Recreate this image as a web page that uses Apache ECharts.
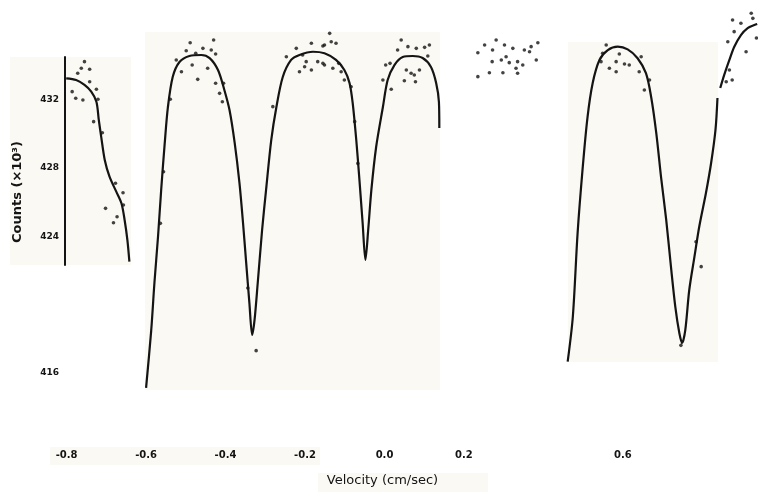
<!DOCTYPE html>
<html>
<head>
<meta charset="utf-8">
<script src="https://cdn.jsdelivr.net/npm/echarts@6/dist/echarts.min.js"></script>
<style>
  html, body { margin: 0; padding: 0; background: #fff; }
  #chart { width: 758px; height: 492px; }
</style>
</head>
<body>
<div id="chart"></div>
<script>
  // velocity (cm/sec), counts (x10^3)
  var xTicks = [-0.8, -0.6, -0.4, -0.2, 0, 0.2, 0.6];
  var yTicks = [416, 424, 428, 432];

  // fitted curve, one array per piece of the scan
  var leftFit = [[-0.801,433.27],[-0.776,433.17],[-0.755,432.88],[-0.738,432.49],[-0.725,431.90],[-0.719,430.83],
    [-0.713,429.85],[-0.704,428.48],[-0.692,427.50],[-0.675,426.62],[-0.662,425.94],[-0.654,424.96],[-0.647,423.78],[-0.642,422.51]];
  var mainFit = [[-0.600,415.10],[-0.587,418.50],[-0.579,421.26],[-0.570,423.96],[-0.562,426.72],[-0.553,429.48],[-0.545,431.59],
    [-0.533,433.35],[-0.516,434.23],[-0.491,434.58],[-0.461,434.64],[-0.440,434.46],[-0.419,433.76],[-0.403,432.59],[-0.390,431.41],
    [-0.377,429.48],[-0.365,427.13],[-0.356,424.78],[-0.348,422.43],[-0.340,420.09],[-0.333,418.21],[-0.327,419.09],[-0.319,421.26],
    [-0.308,424.37],[-0.298,426.72],[-0.285,429.65],[-0.272,431.59],[-0.256,433.35],[-0.235,434.35],[-0.214,434.64],[-0.180,434.83],
    [-0.151,434.74],[-0.122,434.35],[-0.101,433.76],[-0.088,433.00],[-0.080,431.82],[-0.071,429.65],[-0.063,427.30],[-0.055,424.78],
    [-0.048,422.61],[-0.041,424.37],[-0.033,426.72],[-0.021,429.24],[-0.004,431.59],[0.008,433.17],[0.025,434.05],[0.046,434.52],
    [0.071,434.58],[0.096,434.46],[0.117,433.94],[0.130,433.00],[0.137,431.88],[0.138,430.36]];
  var rightFit = [[0.461,416.64],[0.474,419.28],[0.486,424.19],[0.499,428.07],[0.511,431.00],[0.524,433.00],[0.541,434.35],
    [0.562,434.93],[0.587,435.13],[0.612,434.97],[0.637,434.45],[0.658,433.57],[0.671,432.19],[0.684,430.06],[0.696,427.48],
    [0.709,424.96],[0.721,422.20],[0.732,419.85],[0.742,418.33],[0.749,417.74],[0.757,418.50],[0.767,420.85],[0.780,422.79],
    [0.792,424.55],[0.809,426.54],[0.822,428.30],[0.833,430.24],[0.838,432.12]];
  var edgeFit = [[0.845,432.70],[0.855,433.47],[0.868,434.35],[0.880,435.11],[0.897,435.81],[0.914,436.22],[0.931,436.40],[0.938,436.46]];

  // measured points
  var leftDots = [[-0.755,434.25],[-0.763,433.86],[-0.742,433.80],[-0.772,433.57],[-0.742,433.07],[-0.725,432.63],[-0.786,432.49],
    [-0.777,432.10],[-0.759,432.00],[-0.721,432.04],[-0.732,430.73],[-0.710,430.08],[-0.677,427.11],[-0.658,426.56],[-0.657,425.84],
    [-0.702,425.64],[-0.673,425.15],[-0.682,424.80]];
  var mainDots = [[-0.489,435.36],[-0.430,435.52],[-0.457,435.03],[-0.436,434.93],[-0.425,434.70],[-0.499,434.89],[-0.475,434.74],
    [-0.524,434.35],[-0.511,433.66],[-0.484,434.05],[-0.470,433.21],[-0.445,433.86],[-0.425,432.98],[-0.415,432.39],[-0.408,431.90],
    [-0.405,432.98],[-0.281,431.61],[-0.323,417.29],[-0.344,420.97],[-0.564,424.76],[-0.539,432.04],[-0.556,427.79],
    [-0.138,435.91],[-0.184,435.33],[-0.155,435.17],[-0.134,435.42],[-0.122,435.33],[-0.206,434.64],[-0.197,434.25],[-0.201,433.95],
    [-0.214,433.66],[-0.168,434.25],[-0.155,434.15],[-0.151,434.05],[-0.184,433.76],[-0.130,433.86],[-0.115,434.15],[-0.109,433.66],
    [-0.101,433.17],[-0.084,432.78],[-0.075,430.73],[-0.067,428.28],[-0.247,434.54],[-0.222,435.03],[-0.151,435.23],
    [0.042,435.52],[0.059,435.13],[0.080,435.03],[0.101,435.09],[0.113,435.23],[0.033,434.93],[0.003,434.05],[0.014,434.15],
    [-0.004,433.17],[0.017,432.63],[0.055,433.76],[0.067,433.57],[0.075,433.47],[0.088,433.76],[0.050,433.13],[0.078,433.07],[0.109,434.58]];
  var cloudDots = [[0.252,435.23],[0.281,435.52],[0.302,435.23],[0.323,435.03],[0.352,434.93],[0.369,435.13],[0.386,435.36],
    [0.235,434.77],[0.272,434.93],[0.365,434.83],[0.271,434.25],[0.294,434.35],[0.314,434.19],[0.335,434.25],[0.348,434.05],
    [0.382,434.35],[0.235,433.37],[0.264,433.60],[0.298,433.60],[0.335,433.57],[0.331,433.86],[0.306,434.54]];
  var rightDots = [[0.558,435.23],[0.549,434.74],[0.591,434.70],[0.583,434.25],[0.604,434.11],[0.616,434.05],[0.545,434.25],
    [0.566,433.86],[0.583,433.66],[0.641,433.66],[0.654,432.59],[0.667,433.17],[0.646,434.54],[0.797,422.22],[0.784,423.68],[0.746,417.6]];
  var edgeDots = [[0.876,436.69],[0.897,436.50],[0.923,437.09],[0.927,436.79],[0.880,436.01],[0.864,435.42],[0.910,434.83],
    [0.936,435.64],[0.868,433.76],[0.875,433.17],[0.860,433.07]];

  var ink = '#141414';
  var paper = '#fbf9f4';
  var tickFont = {color: ink, fontSize: 10, fontWeight: 'bold', fontFamily: 'DejaVu Sans'};

  function fitLine(d) {
    return {type: 'line', data: d, smooth: 0.3, symbol: 'none', silent: true,
      lineStyle: {color: ink, width: 2.2}, z: 3};
  }
  function dots(d) {
    return {type: 'scatter', data: d, symbol: 'circle', symbolSize: 3.6, silent: true,
      itemStyle: {color: ink}, z: 4};
  }

  var myChart = echarts.init(document.getElementById('chart'), null, {renderer: 'canvas'});
  myChart.setOption({
    animation: false,
    backgroundColor: '#ffffff',
    graphic: [
      // pieces of scanned paper behind the plot
      {type: 'rect', z: -10, shape: {x: 10, y: 57, width: 121, height: 208}, style: {fill: paper}},
      {type: 'rect', z: -10, shape: {x: 145, y: 32, width: 295, height: 358}, style: {fill: paper}},
      {type: 'rect', z: -10, shape: {x: 568, y: 42, width: 150, height: 320}, style: {fill: paper}},
      {type: 'rect', z: -10, shape: {x: 50, y: 447, width: 270, height: 18}, style: {fill: paper}},
      {type: 'rect', z: -10, shape: {x: 318, y: 473, width: 170, height: 19}, style: {fill: paper}},
      {type: 'text', x: 18, y: 192, rotation: Math.PI / 2, z: 5,
        style: {text: 'Counts (×10³)', fill: ink, font: 'bold 13px "DejaVu Sans"', textAlign: 'center', textVerticalAlign: 'middle'}}
    ],
    grid: [
      {left: 7, right: 0, top: 2, height: 438.8},
      {left: 65, top: 57, width: 10, height: 208}
    ],
    xAxis: [
      {
        type: 'value', gridIndex: 0, min: -0.95, max: 0.94,
        name: 'Velocity (cm/sec)', nameLocation: 'middle', nameGap: 33,
        nameTextStyle: {color: ink, fontSize: 13, fontFamily: 'DejaVu Sans'},
        axisLine: {show: false, onZero: false},
        axisTick: {show: false},
        splitLine: {show: false},
        axisLabel: {customValues: xTicks, margin: 10, formatter: function (v) { return v.toFixed(1); }, ...tickFont}
      },
      {type: 'value', gridIndex: 1, show: false, min: 0, max: 1}
    ],
    yAxis: [
      {
        type: 'value', gridIndex: 0, min: 412, max: 437.75, offset: -59,
        axisLine: {show: false, onZero: false},
        axisTick: {show: false},
        splitLine: {show: false},
        axisLabel: {customValues: yTicks, margin: 7, ...tickFont, fontSize: 9}
      },
      {
        type: 'value', gridIndex: 1, min: 0, max: 1,
        axisLine: {show: true, onZero: false, lineStyle: {color: ink, width: 2}},
        axisTick: {show: false}, axisLabel: {show: false}, splitLine: {show: false}
      }
    ],
    series: [
      fitLine(leftFit), fitLine(mainFit), fitLine(rightFit), fitLine(edgeFit),
      dots(leftDots), dots(mainDots), dots(cloudDots), dots(rightDots), dots(edgeDots)
    ]
  });
</script>
</body>
</html>
